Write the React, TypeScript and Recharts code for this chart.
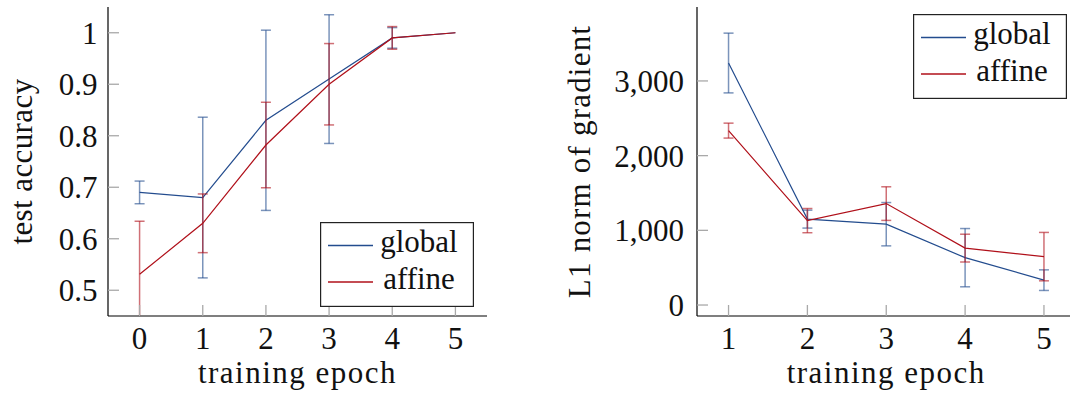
import React from 'react';
import { LineChart, Line, XAxis, YAxis, ErrorBar, Legend } from 'recharts';

// ---------- data ----------
const epochsAcc = [0, 1, 2, 3, 4, 5];
const globalAcc = [0.69, 0.68, 0.83, 0.91, 0.99, 1.0];
const globalAccErr = [0.022, 0.156, 0.175, 0.125, 0.02, 0];
const affineAcc = [0.531, 0.63, 0.782, 0.9, 0.99, 1.0];
const affineAccErr = [0.103, 0.057, 0.083, 0.079, 0.022, 0];

const epochsGrad = [1, 2, 3, 4, 5];
const globalGrad = [3240, 1150, 1082, 634, 333];
const globalGradErr = [400, 120, 290, 390, 138];
const affineGrad = [2335, 1130, 1358, 762, 648];
const affineGradErr = [100, 162, 225, 186, 324];

const accTicksX = [0, 1, 2, 3, 4, 5];
const accTicksY = [0.5, 0.6, 0.7, 0.8, 0.9, 1];
const gradTicksX = [1, 2, 3, 4, 5];
const gradTicksY = [0, 1000, 2000, 3000];

const seriesNames = ['global', 'affine'];

const accData = epochsAcc.map((e, i) => ({
  epoch: e,
  global: globalAcc[i],
  globalErr: globalAccErr[i],
  affine: affineAcc[i],
  affineErr: affineAccErr[i],
}));
const gradData = epochsGrad.map((e, i) => ({
  epoch: e,
  global: globalGrad[i],
  globalErr: globalGradErr[i],
  affine: affineGrad[i],
  affineErr: affineGradErr[i],
}));

// ---------- style ----------
const FONT = "'Liberation Serif', 'Times New Roman', 'DejaVu Serif', serif";
const FS = 31;
const BLUE = '#234c8e';
const RED = '#b0101a';
const TEXT = '#111';
const tickLine = { stroke: '#a9a9a9', strokeWidth: 1.3 };
const axisLine = { stroke: '#000', strokeWidth: 1.2 };
const tickStyle = { fill: TEXT, fontSize: FS, fontFamily: FONT, style: { fontFamily: FONT } };

const makeLegend = () => (props: any) => {
  const payload = [...(props.payload || [])].sort(
    (a: any, b: any) => seriesNames.indexOf(a.value) - seriesNames.indexOf(b.value)
  );
  return (
    <svg width={154} height={85} style={{ display: 'block' }}>
      <rect x={0.6} y={0.6} width={152.8} height={83.8} fill="#fff" stroke="#222" strokeWidth={1.2} />
      {payload.map((p: any, i: number) => {
        const ly = i === 0 ? 23.5 : 60;
        const by = i === 0 ? 30 : 66.5;
        return (
          <g key={p.value}>
            <line x1={8} x2={53} y1={ly} y2={ly} stroke={p.color} strokeWidth={1.4} />
            <text x={99} y={by} textAnchor="middle" fontSize={FS} fill={TEXT} style={{ fontFamily: FONT }}>
              {p.value}
            </text>
          </g>
        );
      })}
    </svg>
  );
};

const xLabel = (text: string, spacing: number) => (props: any) => {
  const vb = props.viewBox;
  return (
    <text
      x={vb.x + vb.width / 2}
      y={383}
      textAnchor="middle"
      fontSize={FS}
      fill={TEXT}
      style={{ letterSpacing: spacing, fontFamily: FONT }}
    >
      {text}
    </text>
  );
};

const yLabel = (text: string, baseX: number, spacing: number) => (props: any) => {
  const vb = props.viewBox;
  const cy = vb.y + vb.height / 2;
  return (
    <text
      x={baseX}
      y={cy}
      textAnchor="middle"
      transform={`rotate(-90, ${baseX}, ${cy})`}
      fontSize={FS}
      fill={TEXT}
      style={{ letterSpacing: spacing, fontFamily: FONT }}
    >
      {text}
    </text>
  );
};

function AccuracyChart() {
  return (
    <LineChart width={500} height={401} data={accData} margin={{ top: 7, right: 13, bottom: 0, left: 0 }}>
      <XAxis
        dataKey="epoch"
        type="number"
        domain={[-0.5, 5.5]}
        ticks={accTicksX}
        allowDataOverflow
        interval={0}
        height={85}
        tickSize={-11}
        tickMargin={21.5}
        tickLine={tickLine}
        axisLine={axisLine}
        tick={tickStyle}
        label={xLabel('training epoch', 1.5)}
      />
      <XAxis
        xAxisId="top"
        orientation="top"
        type="number"
        domain={[-0.5, 5.5]}
        ticks={accTicksX}
        allowDataOverflow
        interval={0}
        height={0}
        tickSize={-11}
        tickLine={tickLine}
        axisLine={axisLine}
        tickFormatter={() => ''}
      />
      <YAxis
        type="number"
        domain={[0.45, 1.05]}
        ticks={accTicksY}
        allowDataOverflow
        interval={0}
        width={108}
        tickSize={-11}
        tickMargin={21.5}
        tickLine={tickLine}
        axisLine={axisLine}
        tick={tickStyle}
        tickFormatter={(v: number) => String(v)}
        label={yLabel('test accuracy', 32, 0.4)}
      />
      <YAxis
        yAxisId="right"
        orientation="right"
        type="number"
        domain={[0.45, 1.05]}
        ticks={accTicksY}
        allowDataOverflow
        interval={0}
        width={0}
        tickSize={-11}
        tickLine={tickLine}
        axisLine={axisLine}
        tickFormatter={() => ''}
      />
      <Line
        id="accGlobal"
        name={seriesNames[0]}
        dataKey="global"
        type="linear"
        stroke={BLUE}
        strokeWidth={1.2}
        dot={false}
        activeDot={false}
        isAnimationActive={false}
      >
        <ErrorBar dataKey="globalErr" direction="y" width={5} stroke={BLUE} strokeWidth={1.5} strokeOpacity={0.6} clipPath="url(#clipPath-accGlobal)" isAnimationActive={false} />
      </Line>
      <Line
        id="accAffine"
        name={seriesNames[1]}
        dataKey="affine"
        type="linear"
        stroke={RED}
        strokeWidth={1.2}
        dot={false}
        activeDot={false}
        isAnimationActive={false}
      >
        <ErrorBar dataKey="affineErr" direction="y" width={5} stroke={RED} strokeWidth={1.5} strokeOpacity={0.6} clipPath="url(#clipPath-accAffine)" isAnimationActive={false} />
      </Line>
      <Legend
        layout="horizontal"
        verticalAlign="middle"
        align="center"
        content={makeLegend()}
        wrapperStyle={{ left: 320, top: 222, width: 154, height: 85, bottom: 'auto', right: 'auto' }}
      />
    </LineChart>
  );
}

function GradientChart() {
  return (
    <LineChart width={540} height={401} data={gradData} margin={{ top: 7, right: 4.5, bottom: 0, left: 0 }}>
      <XAxis
        dataKey="epoch"
        type="number"
        domain={[0.6, 5.4]}
        ticks={gradTicksX}
        allowDataOverflow
        interval={0}
        height={85}
        tickSize={-11}
        tickMargin={21.5}
        tickLine={tickLine}
        axisLine={axisLine}
        tick={tickStyle}
        label={xLabel('training epoch', 1.5)}
      />
      <XAxis
        xAxisId="top"
        orientation="top"
        type="number"
        domain={[0.6, 5.4]}
        ticks={gradTicksX}
        allowDataOverflow
        interval={0}
        height={0}
        tickSize={-11}
        tickLine={tickLine}
        axisLine={axisLine}
        tickFormatter={() => ''}
      />
      <YAxis
        type="number"
        domain={[-147, 3990]}
        ticks={gradTicksY}
        allowDataOverflow
        interval={0}
        width={157}
        tickSize={-11}
        tickMargin={24}
        tickLine={tickLine}
        axisLine={axisLine}
        tick={tickStyle}
        tickFormatter={(v: number) => v.toLocaleString('en-US')}
        label={yLabel('L1 norm of gradient', 50, 1.2)}
      />
      <YAxis
        yAxisId="right"
        orientation="right"
        type="number"
        domain={[-147, 3990]}
        ticks={gradTicksY}
        allowDataOverflow
        interval={0}
        width={0}
        tickSize={-11}
        tickLine={tickLine}
        axisLine={axisLine}
        tickFormatter={() => ''}
      />
      <Line
        id="gradGlobal"
        name={seriesNames[0]}
        dataKey="global"
        type="linear"
        stroke={BLUE}
        strokeWidth={1.2}
        dot={false}
        activeDot={false}
        isAnimationActive={false}
      >
        <ErrorBar dataKey="globalErr" direction="y" width={5} stroke={BLUE} strokeWidth={1.5} strokeOpacity={0.6} isAnimationActive={false} />
      </Line>
      <Line
        id="gradAffine"
        name={seriesNames[1]}
        dataKey="affine"
        type="linear"
        stroke={RED}
        strokeWidth={1.2}
        dot={false}
        activeDot={false}
        isAnimationActive={false}
      >
        <ErrorBar dataKey="affineErr" direction="y" width={5} stroke={RED} strokeWidth={1.5} strokeOpacity={0.6} isAnimationActive={false} />
      </Line>
      <Legend
        layout="horizontal"
        verticalAlign="middle"
        align="center"
        content={makeLegend()}
        wrapperStyle={{ left: 373, top: 14, width: 154, height: 85, bottom: 'auto', right: 'auto' }}
      />
    </LineChart>
  );
}

export default function App() {
  return (
    <div
      style={{
        position: 'absolute',
        left: 0,
        top: 0,
        width: 1070,
        height: 401,
        overflow: 'hidden',
        background: '#fff',
        fontFamily: FONT,
      }}
    >
      <div style={{ position: 'absolute', left: 0, top: 0 }}>
        <AccuracyChart />
      </div>
      <div style={{ position: 'absolute', left: 540, top: 0 }}>
        <GradientChart />
      </div>
    </div>
  );
}
